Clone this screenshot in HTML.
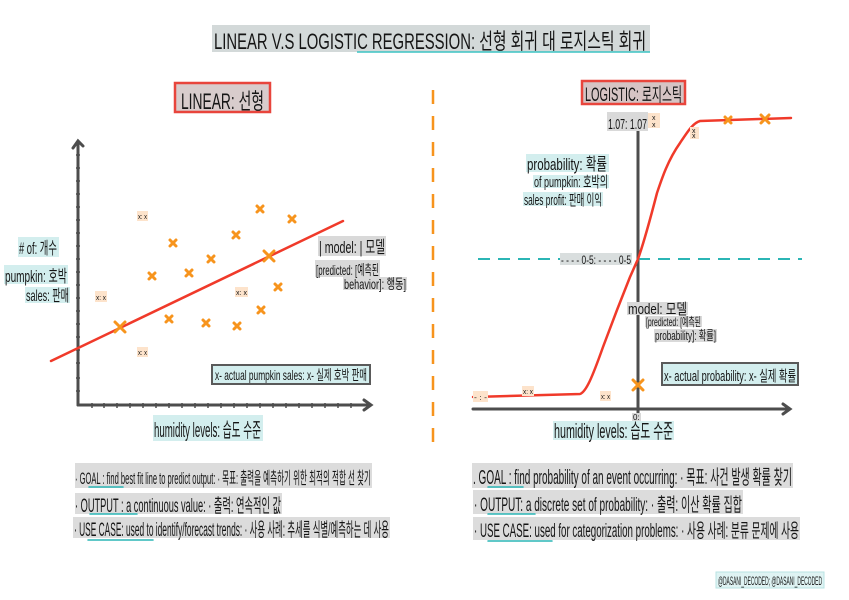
<!DOCTYPE html>
<html><head><meta charset="utf-8"><style>
html,body{margin:0;padding:0;background:#fff;}
svg{display:block;}
text{font-family:"Liberation Sans","Noto Sans CJK KR",sans-serif;fill:#151515;}
</style></head><body>
<svg width="849" height="600" viewBox="0 0 849 600" xmlns="http://www.w3.org/2000/svg">
<rect width="849" height="600" fill="#fff"/>
<!-- Title -->
<rect x="212" y="25" width="438" height="27" fill="#d3d9d9"/>
<text x="214" y="49" font-size="22" textLength="432" lengthAdjust="spacingAndGlyphs">LINEAR V.S LOGISTIC REGRESSION: 선형 회귀 대 로지스틱 회귀</text>
<line x1="357" y1="52" x2="650" y2="52" stroke="#3cc4c4" stroke-width="1.5"/>

<!-- LINEAR box -->
<rect x="175" y="83" width="95" height="29" fill="#d8cccc" stroke="#e8453c" stroke-width="2.5"/>
<text x="181" y="109" font-size="22" textLength="83" lengthAdjust="spacingAndGlyphs">LINEAR: 선형</text>
<!-- LOGISTIC box -->
<rect x="582" y="81" width="103" height="23" fill="#d6c4c4" stroke="#e8453c" stroke-width="2.5"/>
<text x="585" y="101" font-size="19" textLength="97" lengthAdjust="spacingAndGlyphs">LOGISTIC: 로지스틱</text>

<!-- divider -->
<line x1="433" y1="90" x2="433" y2="442" stroke="#f7941d" stroke-width="2.5" stroke-dasharray="14 12"/>

<!-- LEFT CHART axes -->
<g stroke="#4d4d4d" stroke-width="3" fill="none" stroke-linecap="round">
<line x1="78" y1="405" x2="78" y2="142"/>
<polyline points="73,148 78,141 83,146"/>
<line x1="78" y1="405" x2="370" y2="405"/>
<polyline points="364,400 371,405 364,410"/>
</g>
<g stroke="#4d4d4d" stroke-width="1.5">
<line x1="76" y1="155" x2="80" y2="155"/><line x1="76" y1="168" x2="80" y2="168"/><line x1="76" y1="181" x2="80" y2="181"/><line x1="76" y1="194" x2="80" y2="194"/><line x1="76" y1="207" x2="80" y2="207"/><line x1="76" y1="220" x2="80" y2="220"/><line x1="76" y1="233" x2="80" y2="233"/><line x1="76" y1="246" x2="80" y2="246"/><line x1="76" y1="259" x2="80" y2="259"/><line x1="76" y1="272" x2="80" y2="272"/><line x1="76" y1="285" x2="80" y2="285"/><line x1="76" y1="298" x2="80" y2="298"/><line x1="76" y1="311" x2="80" y2="311"/><line x1="76" y1="324" x2="80" y2="324"/><line x1="76" y1="337" x2="80" y2="337"/><line x1="76" y1="350" x2="80" y2="350"/><line x1="76" y1="363" x2="80" y2="363"/><line x1="76" y1="378" x2="80" y2="378"/><line x1="76" y1="391" x2="80" y2="391"/>
<line x1="92" y1="403" x2="92" y2="408"/><line x1="104" y1="403" x2="104" y2="408"/><line x1="117" y1="403" x2="117" y2="408"/><line x1="130" y1="403" x2="130" y2="408"/><line x1="143" y1="403" x2="143" y2="408"/><line x1="156" y1="403" x2="156" y2="408"/><line x1="169" y1="403" x2="169" y2="408"/><line x1="182" y1="403" x2="182" y2="408"/><line x1="195" y1="403" x2="195" y2="408"/><line x1="208" y1="403" x2="208" y2="408"/><line x1="221" y1="403" x2="221" y2="408"/><line x1="234" y1="403" x2="234" y2="408"/><line x1="247" y1="403" x2="247" y2="408"/><line x1="260" y1="403" x2="260" y2="408"/><line x1="273" y1="403" x2="273" y2="408"/><line x1="286" y1="403" x2="286" y2="408"/><line x1="299" y1="403" x2="299" y2="408"/><line x1="312" y1="403" x2="312" y2="408"/><line x1="325" y1="403" x2="325" y2="408"/><line x1="338" y1="403" x2="338" y2="408"/><line x1="351" y1="403" x2="351" y2="408"/>
</g>
<!-- regression line -->
<line x1="51" y1="361" x2="343" y2="221" stroke="#f03a2a" stroke-width="2.5" stroke-linecap="round"/>
<!-- markers -->
<g stroke="#f7941d" stroke-width="3" stroke-linecap="round">
<path d="M115,322 L125,332 M125,322 L115,332"/>
<path d="M170,240 L176,246 M176,240 L170,246"/>
<path d="M149,273 L155,279 M155,273 L149,279"/>
<path d="M186,270 L192,276 M192,270 L186,276"/>
<path d="M208,256 L214,262 M214,256 L208,262"/>
<path d="M166,316 L172,322 M172,316 L166,322"/>
<path d="M203,320 L209,326 M209,320 L203,326"/>
<path d="M233,232 L239,238 M239,232 L233,238"/>
<path d="M257,206 L263,212 M263,206 L257,212"/>
<path d="M289,216 L295,222 M295,216 L289,222"/>
<path d="M264,251 L274,261 M274,251 L264,261"/>
<path d="M275,284 L281,290 M281,284 L275,290"/>
<path d="M258,307 L264,313 M264,307 L258,313"/>
<path d="M234,323 L240,329 M240,323 L234,329"/>
</g>
<!-- peach labels left -->
<g fill="#fde3cb">
<rect x="137" y="211" width="11" height="10"/><rect x="95" y="291" width="12" height="11"/><rect x="137" y="347" width="11" height="10"/><rect x="235" y="287" width="13" height="10"/>
</g>
<g font-size="7">
<text x="138" y="219" textLength="9" lengthAdjust="spacingAndGlyphs">x: x</text>
<text x="96" y="300" textLength="10" lengthAdjust="spacingAndGlyphs">x: x</text>
<text x="138" y="355" textLength="9" lengthAdjust="spacingAndGlyphs">x: x</text>
<text x="236" y="295" textLength="11" lengthAdjust="spacingAndGlyphs">x: x</text>
</g>
<!-- y labels left -->
<g fill="#d3eeee">
<rect x="18" y="237" width="41" height="20"/><rect x="4" y="265" width="64" height="19"/><rect x="25" y="287" width="45" height="16"/>
</g>
<text x="19" y="254" font-size="17" textLength="38" lengthAdjust="spacingAndGlyphs"># of: 개수</text>
<text x="5" y="282" font-size="17" textLength="62" lengthAdjust="spacingAndGlyphs">pumpkin: 호박</text>
<text x="26" y="301" font-size="16" textLength="43" lengthAdjust="spacingAndGlyphs">sales: 판매</text>
<!-- model labels left -->
<g fill="#d9d9d9">
<rect x="318" y="236" width="68" height="20"/><rect x="315" y="260" width="65" height="17"/><rect x="343" y="277" width="64" height="13"/>
</g>
<text x="319" y="253" font-size="17" textLength="66" lengthAdjust="spacingAndGlyphs">| model: | 모델</text>
<text x="316" y="275" font-size="14" textLength="63" lengthAdjust="spacingAndGlyphs">[predicted: [예측된</text>
<text x="344" y="289" font-size="14" textLength="62" lengthAdjust="spacingAndGlyphs">behavior]: 행동]</text>
<!-- actual box left -->
<rect x="212" y="365" width="158" height="19" fill="#d3eeee" stroke="#5a5a5a" stroke-width="2"/>
<text x="215" y="380" font-size="14" textLength="152" lengthAdjust="spacingAndGlyphs">x- actual pumpkin sales: x- 실제 호박 판매</text>
<!-- humidity left -->
<rect x="153" y="415" width="110" height="26" fill="#d3eeee"/>
<text x="154" y="437" font-size="20" textLength="107" lengthAdjust="spacingAndGlyphs">humidity levels: 습도 수준</text>

<!-- RIGHT CHART -->
<g stroke="#4d4d4d" stroke-width="3" fill="none" stroke-linecap="round">
<line x1="638" y1="130" x2="638" y2="417"/>
<line x1="473" y1="409" x2="789" y2="409"/>
<polyline points="783,404 790,409 783,414"/>
</g>
<line x1="478" y1="259" x2="802" y2="259" stroke="#2bb5b5" stroke-width="2" stroke-dasharray="12 8"/>
<path d="M473,397 L580,394 C586,392 592,378 603,347 L617,310 L630,277 L638,259 C643,245 650,220 657,193 C662,178 668,160 680,143 C688,131 693,123 700,121 L791,118" fill="none" stroke="#f03a2a" stroke-width="2.5" stroke-linejoin="round" stroke-linecap="round"/>
<g stroke="#f7941d" stroke-width="3" stroke-linecap="round">
<path d="M725,117 L731,123 M731,117 L725,123"/>
<path d="M761,115 L769,123 M769,115 L761,123"/>
<path d="M633,380 L643,390 M643,380 L633,390"/>
</g>
<!-- right labels -->
<rect x="607" y="112" width="41" height="19" fill="#d9d9d9"/>
<text x="608" y="129" font-size="15" textLength="39" lengthAdjust="spacingAndGlyphs">1.07: 1.07</text>
<g fill="#fde3cb">
<rect x="648" y="113" width="12" height="15"/><rect x="690" y="127" width="9" height="12"/><rect x="522" y="386" width="12" height="10"/><rect x="600" y="391" width="11" height="10"/><rect x="473" y="391" width="15" height="11"/>
</g>
<g font-size="7">
<text x="652" y="120">x</text><text x="652" y="127">x</text>
<text x="692" y="133">x</text><text x="692" y="138">x</text>
<text x="523" y="394" textLength="10" lengthAdjust="spacingAndGlyphs">x: x</text>
<text x="601" y="399" textLength="9" lengthAdjust="spacingAndGlyphs">x: x</text>
<text x="474" y="400" textLength="13" lengthAdjust="spacingAndGlyphs">- : -</text>
</g>
<g fill="#d3eeee">
<rect x="526" y="154" width="83" height="18"/><rect x="533" y="175" width="76" height="13"/><rect x="523" y="192" width="80" height="14"/>
</g>
<text x="527" y="170" font-size="17" textLength="80" lengthAdjust="spacingAndGlyphs">probability: 확률</text>
<text x="534" y="187" font-size="15" textLength="74" lengthAdjust="spacingAndGlyphs">of pumpkin: 호박의</text>
<text x="524" y="205" font-size="15" textLength="78" lengthAdjust="spacingAndGlyphs">sales profit: 판매 이익</text>
<rect x="560" y="253" width="72" height="12" fill="#d9dede"/>
<text x="561" y="264" font-size="12" textLength="70" lengthAdjust="spacingAndGlyphs">- - - - 0-5: - - - - 0-5</text>
<g fill="#d9d9d9">
<rect x="627" y="302" width="61" height="13"/><rect x="645" y="316" width="57" height="11"/><rect x="654" y="329" width="63" height="13"/><rect x="632" y="413" width="9" height="8"/>
</g>
<text x="628" y="314" font-size="15" textLength="59" lengthAdjust="spacingAndGlyphs">model: 모델</text>
<text x="646" y="326" font-size="12" textLength="55" lengthAdjust="spacingAndGlyphs">[predicted: [예측된</text>
<text x="655" y="340" font-size="13" textLength="61" lengthAdjust="spacingAndGlyphs">probability]: 확률]</text>
<text x="633" y="420" font-size="8">0:</text>
<rect x="662" y="363" width="136" height="22" fill="#d3eeee" stroke="#5a5a5a" stroke-width="2"/>
<text x="664" y="381" font-size="15" textLength="132" lengthAdjust="spacingAndGlyphs">x- actual probability: x- 실제 확률</text>
<rect x="553" y="421" width="121" height="19" fill="#d3eeee"/>
<text x="554" y="438" font-size="20" textLength="119" lengthAdjust="spacingAndGlyphs">humidity levels: 습도 수준</text>

<!-- Bottom text -->
<g fill="#dcdcdc">
<rect x="75" y="463" width="297" height="25"/><rect x="75" y="493" width="207" height="21"/><rect x="73" y="517" width="317" height="21"/>
<rect x="472" y="463" width="321" height="25"/><rect x="473" y="490" width="270" height="24"/><rect x="473" y="517" width="327" height="23"/>
</g>
<text x="75" y="484" font-size="17" textLength="296" lengthAdjust="spacingAndGlyphs">· GOAL : find best fit line to predict output: · 목표: 출력을 예측하기 위한 최적의 적합 선 찾기</text>
<text x="75" y="512" font-size="19" textLength="206" lengthAdjust="spacingAndGlyphs">· OUTPUT : a continuous value: · 출력: 연속적인 값</text>
<text x="74" y="536" font-size="19" textLength="315" lengthAdjust="spacingAndGlyphs">· USE CASE: used to identify/forecast trends: · 사용 사례: 추세를 식별/예측하는 데 사용</text>
<text x="473" y="484" font-size="20" textLength="319" lengthAdjust="spacingAndGlyphs">. GOAL : find probability of an event occurring: · 목표: 사건 발생 확률 찾기</text>
<text x="474" y="511" font-size="19" textLength="268" lengthAdjust="spacingAndGlyphs">· OUTPUT: a discrete set of probability: · 출력: 이산 확률 집합</text>
<text x="474" y="537" font-size="19" textLength="325" lengthAdjust="spacingAndGlyphs">· USE CASE: used for categorization problems: · 사용 사례: 분류 문제에 사용</text>
<g stroke="#2bb5b5" stroke-width="1.5" stroke-linecap="round">
<line x1="89" y1="487" x2="123" y2="487"/><line x1="90" y1="514" x2="137" y2="514"/><line x1="88" y1="540" x2="153" y2="540"/>
<line x1="488" y1="487" x2="523" y2="487"/><line x1="488" y1="514" x2="535" y2="514"/><line x1="488" y1="541" x2="552" y2="541"/>
</g>
<!-- credit -->
<rect x="716" y="572" width="108" height="16" fill="#dff3f3" stroke="#b9e3e3" stroke-width="1"/>
<text x="718" y="585" font-size="12" textLength="104" lengthAdjust="spacingAndGlyphs">@DASANI_DECODED; @DASANI_DECODED</text>
</svg>
</body></html>
